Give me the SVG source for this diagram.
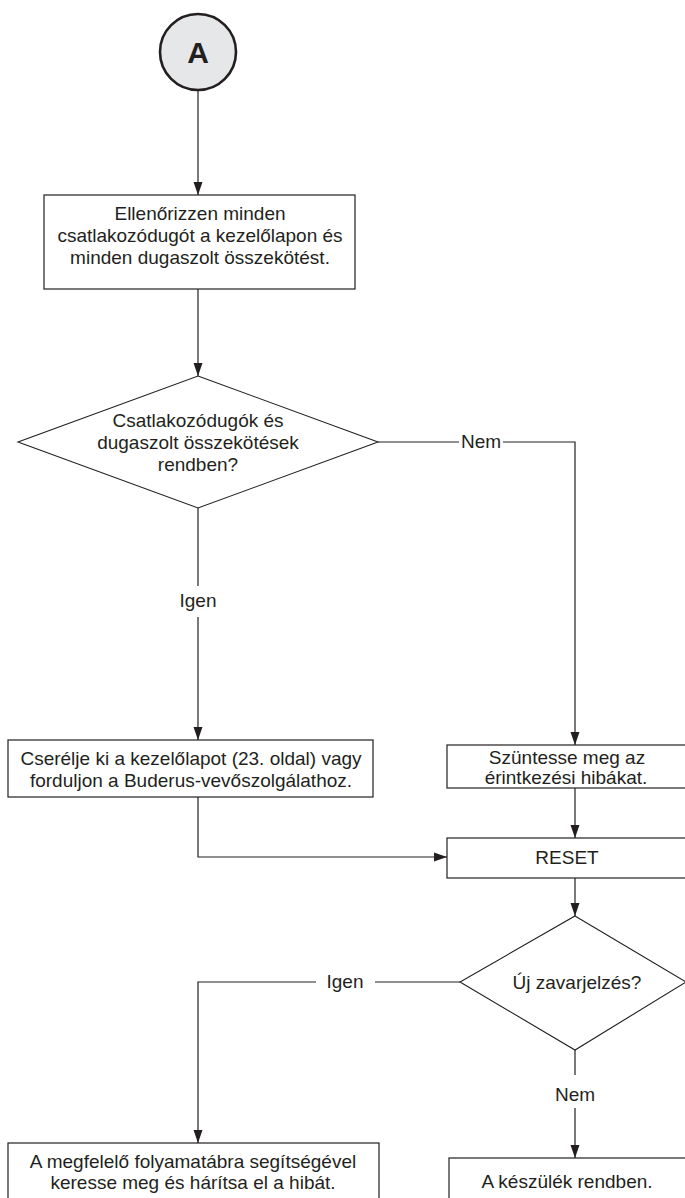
<svg xmlns="http://www.w3.org/2000/svg" width="685" height="1198" viewBox="0 0 685 1198">
<style>
  .bg { fill: #ffffff; }
  .box { fill: #ffffff; stroke: #231f20; stroke-width: 1.2; }
  .dia { fill: #ffffff; stroke: #231f20; stroke-width: 1.1; }
  .t { font-family: "Liberation Sans", Arial, sans-serif; font-size: 19px; fill: #231f20; text-anchor: middle; }
  .lbl { font-family: "Liberation Sans", Arial, sans-serif; font-size: 19px; fill: #231f20; text-anchor: middle; }
  .con { fill: none; stroke: #231f20; stroke-width: 1.2; }
  .arr { fill: none; stroke: #231f20; stroke-width: 1.2; marker-end: url(#ah); }
</style>
<defs>
  <marker id="ah" markerUnits="userSpaceOnUse" markerWidth="13" markerHeight="10" refX="13" refY="5" orient="auto">
    <path d="M0,0.5 L13,5 L0,9.5 z" fill="#231f20"/>
  </marker>
</defs>
<rect class="bg" x="0" y="0" width="685" height="1198"/>

<g id="connectors">
  <path class="arr" d="M198,90 V195"/>
  <path class="arr" d="M198,289 V376"/>
  <path class="con" d="M378,442 H459"/>
  <path class="arr" d="M503,442 H575 V745"/>
  <path class="con" d="M198,508 V586"/>
  <path class="arr" d="M198,617 V740"/>
  <path class="arr" d="M575,788 V838"/>
  <path class="arr" d="M198,797 V857 H447"/>
  <path class="arr" d="M575,878 V916"/>
  <path class="con" d="M460,982 H375"/>
  <path class="arr" d="M316,982 H198 V1143"/>
  <path class="con" d="M575,1050 V1075"/>
  <path class="arr" d="M575,1108 V1158"/>
  <text class="lbl" x="481" y="448">Nem</text>
  <text class="lbl" x="198" y="607">Igen</text>
  <text class="lbl" x="345" y="988">Igen</text>
  <text class="lbl" x="575" y="1101">Nem</text>
</g>

<g id="start">
  <circle cx="198" cy="52" r="38" fill="#e6e7e8" stroke="#231f20" stroke-width="2.6"/>
  <text x="198" y="63" font-family="Liberation Sans, Arial, sans-serif" font-size="30" font-weight="bold" fill="#231f20" text-anchor="middle">A</text>
</g>

<g id="check">
  <rect class="box" x="44" y="195" width="311" height="94"/>
  <text class="t" x="200" y="220">Ellenőrizzen minden</text>
  <text class="t" x="200" y="242">csatlakozódugót a kezelőlapon és</text>
  <text class="t" x="200" y="264">minden dugaszolt összekötést.</text>
</g>

<g id="decision1">
  <polygon class="dia" points="198,376 378,442 198,508 18,442"/>
  <text class="t" x="198" y="427">Csatlakozódugók és</text>
  <text class="t" x="198" y="449">dugaszolt összekötések</text>
  <text class="t" x="198" y="471">rendben?</text>
</g>

<g id="replace">
  <rect class="box" x="8" y="740" width="365" height="57"/>
  <text class="t" x="191" y="765">Cserélje ki a kezelőlapot (23. oldal) vagy</text>
  <text class="t" x="191" y="787">forduljon a Buderus-vevőszolgálathoz.</text>
</g>

<g id="fix">
  <rect class="box" x="447" y="745" width="242" height="43"/>
  <text class="t" x="567" y="764">Szüntesse meg az</text>
  <text class="t" x="566" y="784">érintkezési hibákat.</text>
</g>

<g id="reset">
  <rect class="box" x="447" y="838" width="242" height="40"/>
  <text class="t" x="567" y="864">RESET</text>
</g>

<g id="decision2">
  <polygon class="dia" points="575,916 686,982 575,1050 460,982"/>
  <text class="t" x="577" y="989">Új zavarjelzés?</text>
</g>

<g id="flowchart">
  <rect class="box" x="8" y="1143" width="371" height="70"/>
  <text class="t" x="193" y="1168">A megfelelő folyamatábra segítségével</text>
  <text class="t" x="193" y="1189">keresse meg és hárítsa el a hibát.</text>
</g>

<g id="ok">
  <rect class="box" x="449" y="1158" width="240" height="55"/>
  <text class="t" x="567" y="1188">A készülék rendben.</text>
</g>
</svg>
